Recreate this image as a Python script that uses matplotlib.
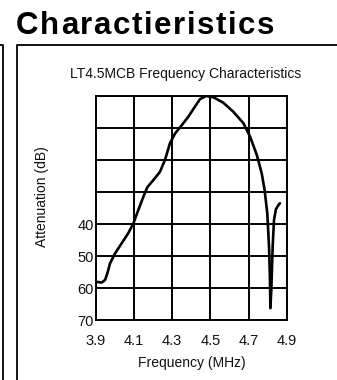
import numpy as np
import matplotlib
matplotlib.use("Agg")
import matplotlib.pyplot as plt
from matplotlib.lines import Line2D

plt.rcParams['font.family'] = ['Liberation Sans', 'DejaVu Sans']

# attenuation curve (MHz, dB)
freq = [3.908, 3.931, 3.949, 3.961, 3.975, 4.001, 4.036, 4.070, 4.097, 4.123,
        4.149, 4.170, 4.201, 4.236, 4.262, 4.288, 4.315, 4.350, 4.384, 4.419,
        4.445, 4.477, 4.515, 4.567, 4.619, 4.672, 4.707, 4.742, 4.768, 4.783,
        4.797, 4.806, 4.811, 4.813, 4.818, 4.825, 4.832, 4.842, 4.855, 4.863]
atten = [58.1, 58.3, 57.5, 55.4, 52.3, 49.2, 46.0, 42.9, 39.8, 35.6,
         31.5, 28.5, 26.3, 23.7, 20.0, 14.8, 11.7, 9.1, 6.5, 3.3,
         1.0, 0.0, 0.4, 2.1, 4.9, 8.5, 12.7, 18.4, 24.2, 29.4,
         36.7, 47.1, 57.5, 66.3, 60.6, 47.1, 38.8, 35.4, 34.1, 33.5]

x_ticks = [3.9, 4.1, 4.3, 4.5, 4.7, 4.9]
y_grid = [0, 10, 20, 30, 40, 50, 60, 70]
y_labels = ['', '', '', '', '40', '50', '60', '70']

W, H = 337, 380
fig = plt.figure(figsize=(W / 100, H / 100), dpi=100)

# axes box in pixel coordinates
left, right, top, bottom = 95.7, 287.0, 96.0, 320.0
ax = fig.add_axes([left / W, 1 - bottom / H, (right - left) / W, (bottom - top) / H])

ax.plot(freq, atten, color='black', lw=1.9, solid_capstyle='round', solid_joinstyle='round')

ax.set_xlim(3.9, 4.9)
ax.set_ylim(70, 0)
ax.set_xticks(x_ticks)
ax.set_xticklabels([f'{v:.1f}' for v in x_ticks])
ax.set_yticks(y_grid)
ax.set_yticklabels(y_labels)
ax.tick_params(length=0, labelsize=10.5, colors='#111111')
ax.tick_params(axis='x', pad=10)
ax.tick_params(axis='y', pad=1.5)
ax.grid(True, color='black', lw=1.4)
for sp in ax.spines.values():
    sp.set_linewidth(1.4)

ax.set_xlabel('Frequency (MHz)', fontsize=10, labelpad=6, color='#111111')
ax.set_ylabel('Attenuation (dB)', fontsize=10, color='#111111')
ax.yaxis.set_label_coords(-0.245, 0.55)

fig.text(186 / W, 1 - 78 / H, 'LT4.5MCB Frequency Characteristics',
         ha='center', va='baseline', fontsize=10, color='#111111')

# heading with extra letter spacing
heading = 'Charactieristics'
hx, hy, track = 16.0, 34.5, 1.6
renderer = fig.canvas.get_renderer()
for i, ch in enumerate(heading):
    prefix = heading[:i]
    if prefix:
        t = fig.text(0, 0, prefix, fontsize=22.5, fontweight='bold')
        w = t.get_window_extent(renderer).width
        t.remove()
    else:
        w = 0.0
    fig.text((hx + w + i * track) / W, 1 - hy / H, ch, fontsize=22.5,
             fontweight='bold', va='baseline', ha='left')

# panel frames
lw = 1.3
for xs, ys in [([17, 17, W + 2], [H + 2, 45, 45]),
               ([-2, 3, 3], [45, 45, H + 2])]:
    fig.add_artist(Line2D([x / W for x in xs], [1 - y / H for y in ys],
                          color='black', lw=lw, transform=fig.transFigure))

fig.savefig('out.png', dpi=100)
